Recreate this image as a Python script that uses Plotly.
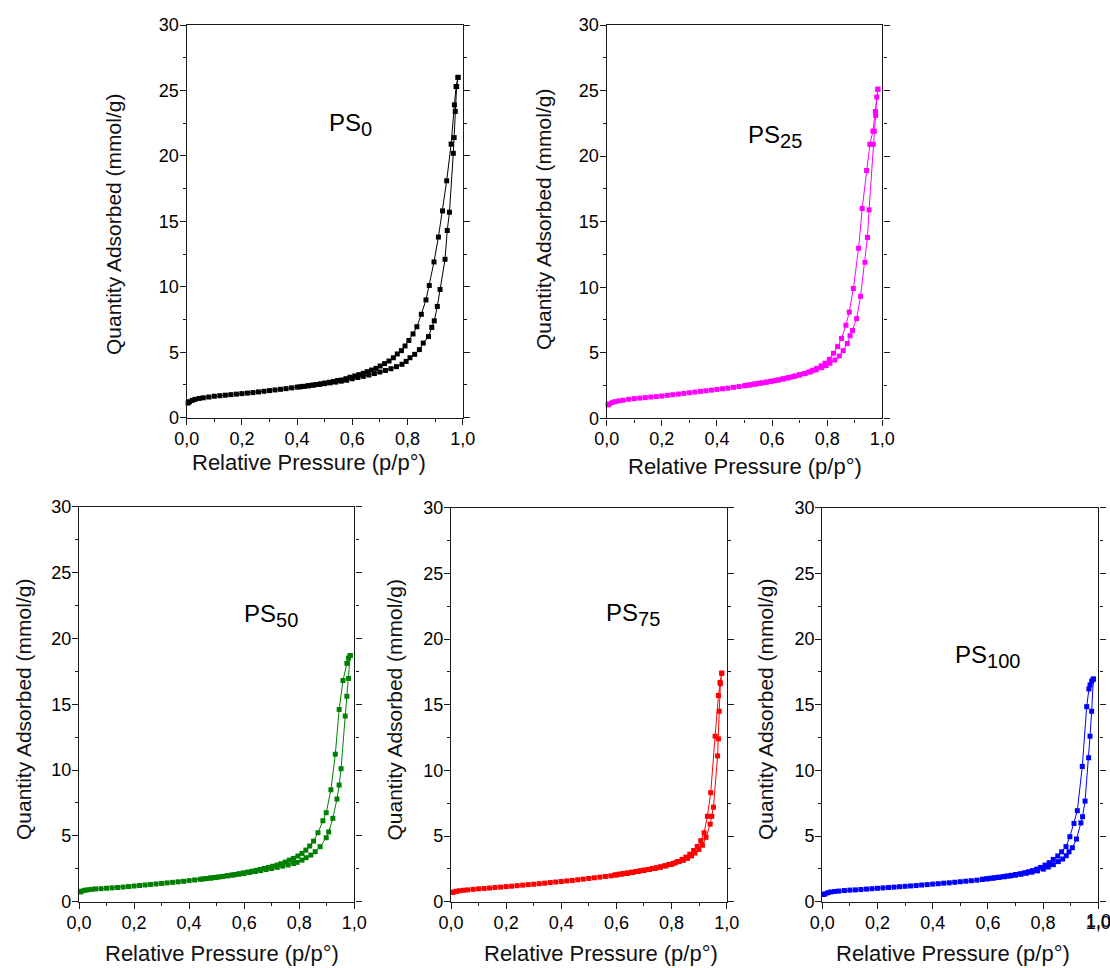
import plotly.graph_objects as go

# ---------------- data ----------------
# shared low-pressure grid of the adsorption branch
P_LOW = [0.005, 0.01, 0.02, 0.03, 0.045, 0.06, 0.08, 0.10, 0.12, 0.14, 0.16, 0.18, 0.20,
         0.22, 0.24, 0.26, 0.28, 0.30, 0.32, 0.34, 0.36, 0.38, 0.40, 0.42, 0.44, 0.46,
         0.48, 0.50, 0.52, 0.54, 0.56, 0.58, 0.60, 0.62, 0.64, 0.66, 0.68, 0.70, 0.72,
         0.74, 0.76, 0.78]

# PS0
PS0_ADS_LOW = [1.12, 1.22, 1.32, 1.40, 1.47, 1.52, 1.58, 1.64, 1.68, 1.72, 1.76, 1.80, 1.84,
               1.88, 1.92, 1.97, 2.02, 2.07, 2.12, 2.17, 2.22, 2.28, 2.34, 2.39, 2.44, 2.49,
               2.54, 2.60, 2.66, 2.72, 2.79, 2.86, 2.98, 3.07, 3.16, 3.26, 3.37, 3.49, 3.61,
               3.74, 3.90, 4.08]
PS0_ADS_P_HI = [0.795, 0.809, 0.826, 0.843, 0.857, 0.876, 0.888, 0.897, 0.908, 0.918, 0.936,
                0.944, 0.952, 0.966, 0.969, 0.973, 0.978, 0.983]
PS0_ADS_V_HI = [4.30, 4.58, 4.84, 5.20, 5.70, 6.20, 6.90, 7.40, 8.50, 9.80, 12.1,
                14.3, 15.7, 20.2, 21.4, 23.4, 25.3, 26.0]
PS0_DES_P = [0.983, 0.976, 0.970, 0.958, 0.942, 0.927, 0.912, 0.896, 0.879, 0.867, 0.850,
             0.834, 0.820, 0.805, 0.791, 0.778, 0.763, 0.749, 0.733, 0.717, 0.701, 0.686,
             0.670, 0.654, 0.640, 0.624, 0.609, 0.592, 0.577, 0.562, 0.547, 0.532, 0.517,
             0.500, 0.485, 0.470, 0.455, 0.440, 0.425, 0.410]
PS0_DES_V = [26.0, 25.3, 23.9, 20.9, 18.1, 15.8, 13.8, 11.9, 10.1, 9.0, 7.9,
             6.95, 6.4, 5.9, 5.48, 5.12, 4.87, 4.58, 4.33, 4.13, 3.95, 3.77,
             3.64, 3.52, 3.39, 3.29, 3.19, 3.09, 2.98, 2.88, 2.84, 2.77, 2.71,
             2.65, 2.59, 2.54, 2.49, 2.44, 2.39, 2.35]

# PS25
PS25_ADS_LOW = [1.02, 1.10, 1.20, 1.27, 1.33, 1.38, 1.45, 1.50, 1.54, 1.58, 1.62, 1.66, 1.70,
                1.75, 1.80, 1.85, 1.90, 1.95, 2.00, 2.05, 2.10, 2.15, 2.20, 2.25, 2.30, 2.36,
                2.42, 2.48, 2.54, 2.61, 2.68, 2.76, 2.84, 2.92, 3.01, 3.10, 3.20, 3.30, 3.42,
                3.55, 3.70, 3.86]
PS25_ADS_P_HI = [0.796, 0.810, 0.828, 0.844, 0.858, 0.873, 0.883, 0.892, 0.907, 0.921, 0.937,
                 0.946, 0.952, 0.967, 0.971, 0.976, 0.980, 0.984]
PS25_ADS_V_HI = [4.02, 4.20, 4.45, 4.75, 5.16, 5.70, 6.30, 6.70, 7.60, 9.30, 11.9,
                 13.8, 15.9, 20.9, 21.9, 23.1, 24.5, 25.1]
PS25_DES_P = [0.984, 0.975, 0.966, 0.955, 0.943, 0.927, 0.914, 0.895, 0.880, 0.868, 0.852,
              0.838, 0.823, 0.808, 0.792, 0.778, 0.762, 0.747, 0.732, 0.716, 0.700, 0.685,
              0.670, 0.655, 0.640, 0.625, 0.610, 0.595, 0.580, 0.565, 0.550, 0.535, 0.520,
              0.505]
PS25_DES_V = [25.1, 23.4, 21.9, 20.9, 18.9, 16.0, 12.97, 9.9, 8.1, 7.1, 6.1,
              5.47, 4.96, 4.50, 4.20, 4.00, 3.81, 3.66, 3.52, 3.40, 3.32, 3.23,
              3.15, 3.07, 3.00, 2.93, 2.87, 2.81, 2.76, 2.71, 2.66, 2.61, 2.56,
              2.51]

# PS50
PS50_ADS_LOW = [0.74, 0.80, 0.86, 0.90, 0.94, 0.97, 0.99, 1.02, 1.05, 1.08, 1.11, 1.15, 1.19,
                1.23, 1.27, 1.31, 1.35, 1.39, 1.43, 1.47, 1.51, 1.55, 1.60, 1.65, 1.70, 1.75,
                1.80, 1.85, 1.91, 1.97, 2.03, 2.09, 2.15, 2.22, 2.29, 2.36, 2.44, 2.52, 2.61,
                2.70, 2.79, 2.90]
PS50_ADS_P_HI = [0.792, 0.810, 0.825, 0.842, 0.858, 0.876, 0.898, 0.907, 0.922, 0.937, 0.945,
                 0.952, 0.967, 0.973, 0.979, 0.985]
PS50_ADS_V_HI = [2.99, 3.16, 3.34, 3.54, 3.80, 4.18, 4.86, 5.30, 6.33, 7.80, 8.86,
                 10.1, 14.1, 15.6, 16.96, 18.7]
PS50_DES_P = [0.985, 0.979, 0.973, 0.959, 0.945, 0.931, 0.915, 0.898, 0.886, 0.868, 0.852,
              0.838, 0.824, 0.810, 0.795, 0.779, 0.764, 0.749, 0.733, 0.719, 0.703, 0.688,
              0.673, 0.658, 0.643, 0.628, 0.613, 0.598, 0.583, 0.568, 0.553, 0.538, 0.523,
              0.508, 0.493, 0.478, 0.463, 0.448]
PS50_DES_V = [18.7, 18.5, 18.1, 16.8, 14.6, 11.2, 8.5, 6.76, 6.15, 5.24, 4.60,
              4.23, 3.92, 3.67, 3.47, 3.29, 3.16, 3.01, 2.88, 2.78, 2.69, 2.60,
              2.52, 2.45, 2.38, 2.31, 2.25, 2.19, 2.13, 2.07, 2.02, 1.97, 1.92,
              1.88, 1.84, 1.80, 1.76, 1.72]

# PS75
PS75_ADS_LOW = [0.70, 0.74, 0.79, 0.83, 0.87, 0.90, 0.94, 0.98, 1.01, 1.04, 1.08, 1.11, 1.15,
                1.18, 1.22, 1.26, 1.30, 1.33, 1.37, 1.41, 1.46, 1.50, 1.54, 1.58, 1.62, 1.67,
                1.72, 1.77, 1.82, 1.87, 1.92, 1.97, 2.03, 2.09, 2.15, 2.22, 2.30, 2.38, 2.45,
                2.53, 2.62, 2.72]
PS75_ADS_P_HI = [0.800, 0.814, 0.828, 0.843, 0.858, 0.872, 0.885, 0.899, 0.912, 0.925, 0.940,
                 0.946, 0.952, 0.967, 0.970, 0.973, 0.977, 0.982]
PS75_ADS_V_HI = [2.84, 2.96, 3.05, 3.15, 3.30, 3.48, 3.70, 3.98, 4.30, 4.90, 5.90,
                 6.50, 7.20, 11.1, 12.4, 14.5, 16.6, 17.4]
PS75_DES_P = [0.982, 0.976, 0.970, 0.958, 0.942, 0.930, 0.918, 0.906, 0.893, 0.880, 0.866,
              0.852, 0.838, 0.822, 0.806, 0.790, 0.775, 0.760, 0.745, 0.730, 0.715, 0.700,
              0.685, 0.670, 0.655, 0.640, 0.625, 0.610, 0.595]
PS75_DES_V = [17.4, 16.7, 15.7, 12.6, 8.3, 6.5, 5.25, 4.65, 4.20, 3.90, 3.62,
              3.40, 3.22, 3.06, 2.92, 2.83, 2.74, 2.66, 2.59, 2.52, 2.46, 2.41,
              2.36, 2.30, 2.25, 2.20, 2.15, 2.10, 2.05]

# PS100
PS100_ADS_LOW = [0.55, 0.60, 0.68, 0.74, 0.78, 0.81, 0.85, 0.88, 0.90, 0.93, 0.96, 0.99, 1.02,
                 1.05, 1.08, 1.11, 1.14, 1.17, 1.20, 1.23, 1.27, 1.30, 1.34, 1.37, 1.41, 1.44,
                 1.48, 1.52, 1.56, 1.60, 1.64, 1.69, 1.74, 1.79, 1.84, 1.90, 1.96, 2.02, 2.09,
                 2.17, 2.25, 2.35]
PS100_ADS_P_HI = [0.801, 0.819, 0.837, 0.855, 0.871, 0.884, 0.894, 0.906, 0.921, 0.937, 0.943,
                  0.952, 0.965, 0.970, 0.976, 0.982]
PS100_ADS_V_HI = [2.48, 2.64, 2.82, 3.05, 3.25, 3.50, 3.80, 4.11, 4.77, 6.00, 6.47,
                  7.66, 10.96, 12.6, 14.5, 16.95]
PS100_DES_P = [0.982, 0.976, 0.970, 0.966, 0.958, 0.942, 0.924, 0.912, 0.897, 0.883, 0.867,
               0.853, 0.837, 0.822, 0.807, 0.791, 0.777, 0.762, 0.747, 0.732, 0.717, 0.700,
               0.685, 0.670, 0.655, 0.640, 0.625, 0.610, 0.595, 0.580]
PS100_DES_V = [16.95, 16.8, 16.5, 16.2, 14.85, 10.3, 6.93, 5.96, 4.95, 4.19, 3.80,
               3.48, 3.22, 2.97, 2.79, 2.61, 2.48, 2.37, 2.28, 2.20, 2.13, 2.07,
               2.01, 1.96, 1.91, 1.87, 1.83, 1.79, 1.75, 1.71]

SAMPLE_LABELS = ["0", "25", "50", "75", "100"]
X_TICKS = [0.0, 0.2, 0.4, 0.6, 0.8, 1.0]
Y_TICKS = [0, 5, 10, 15, 20, 25, 30]
X_TITLE = "Relative Pressure (p/p°)"
Y_TITLE = "Quantity Adsorbed (mmol/g)"

# ---------------- layout / style ----------------
W, H = 1110, 968
FONT = "Liberation Sans, Arial, sans-serif"
COLORS = ["#000000", "#FF00FF", "#008000", "#FF0000", "#0000FF"]


def fx(px):
    return px / W


def fy(py):
    return 1 - py / H


# plot-area boxes in window pixels: (left, right, top, bottom)
BOXES = [(186.7, 462.7, 25.0, 417.7),
         (606.7, 882.3, 25.0, 418.3),
         (79.0, 354.3, 506.7, 901.7),
         (451.0, 726.7, 507.7, 901.7),
         (822.3, 1098.3, 507.7, 901.7)]
# label positions (data coords) and axis-title pixel centres
LABEL_POS = [(0.595, 22.4), (0.611, 21.5), (0.697, 21.7), (0.66, 21.9), (0.597, 18.66)]
XT_POS = [(309, 462), (745, 466), (221.5, 953), (601, 953), (952.5, 953)]
YT_POS = [(114, 225), (543, 220), (23, 710), (393.5, 710), (765, 710)]

series = [
    (PS0_ADS_LOW, PS0_ADS_P_HI, PS0_ADS_V_HI, PS0_DES_P, PS0_DES_V),
    (PS25_ADS_LOW, PS25_ADS_P_HI, PS25_ADS_V_HI, PS25_DES_P, PS25_DES_V),
    (PS50_ADS_LOW, PS50_ADS_P_HI, PS50_ADS_V_HI, PS50_DES_P, PS50_DES_V),
    (PS75_ADS_LOW, PS75_ADS_P_HI, PS75_ADS_V_HI, PS75_DES_P, PS75_DES_V),
    (PS100_ADS_LOW, PS100_ADS_P_HI, PS100_ADS_V_HI, PS100_DES_P, PS100_DES_V),
]

fig = go.Figure()
annotations = []
TICK_FONT = dict(family=FONT, size=18, color="#000000")

for i, (ads_low, ads_p_hi, ads_v_hi, des_p, des_v) in enumerate(series):
    n = "" if i == 0 else str(i + 1)
    xa, ya = "x" + n, "y" + n
    col = COLORS[i]
    style = dict(mode="lines+markers",
                 line=dict(color=col, width=1),
                 marker=dict(symbol="square", size=5, color=col, line=dict(width=0)),
                 xaxis=xa, yaxis=ya, showlegend=False, cliponaxis=False)
    fig.add_trace(go.Scatter(x=P_LOW + ads_p_hi, y=ads_low + ads_v_hi, **style))
    fig.add_trace(go.Scatter(x=des_p, y=des_v, **style))

    l, r, t, b = BOXES[i]
    common = dict(showline=True, linecolor="#1a1a1a", linewidth=1.4, showgrid=False,
                  zeroline=False, ticks="outside", ticklen=6, tickwidth=1.2,
                  tickcolor="#1a1a1a", automargin=False, ticklabeloverflow="allow",
                  tickfont=TICK_FONT)
    fig.layout["xaxis" + n] = dict(
        domain=[fx(l), fx(r)], anchor=ya, range=[0, 1],
        tickmode="array", tickvals=X_TICKS, tickformat=".1f", mirror=True,
        ticklabelstandoff=-2,
        minor=dict(dtick=0.1, ticklen=3, tickcolor="#1a1a1a", ticks="outside"),
        **common)
    fig.layout["yaxis" + n] = dict(
        domain=[fy(b), fy(t)], anchor=xa, range=[0, 30],
        tickmode="array", tickvals=Y_TICKS, mirror="allticks",
        ticklabelstandoff=-3,
        minor=dict(dtick=2.5, ticklen=3, tickcolor="#1a1a1a", ticks="outside"),
        **common)

    lx, ly = LABEL_POS[i]
    annotations.append(dict(
        x=lx, y=ly, xref=xa, yref=ya, showarrow=False, xanchor="center", yanchor="middle",
        text='PS<sub><span style="font-size:20px">' + SAMPLE_LABELS[i] + "</span></sub>",
        font=dict(family=FONT, size=24, color="#000000")))
    tx, ty = XT_POS[i]
    annotations.append(dict(
        x=fx(tx), y=fy(ty), xref="paper", yref="paper", showarrow=False,
        xanchor="center", yanchor="middle", text=X_TITLE,
        font=dict(family=FONT, size=22, color="#111111")))
    yx, yy = YT_POS[i]
    annotations.append(dict(
        x=fx(yx), y=fy(yy), xref="paper", yref="paper", showarrow=False,
        xanchor="center", yanchor="middle", text=Y_TITLE, textangle=-90,
        font=dict(family=FONT, size=21, color="#111111")))

# Plotly drops the last x tick label of the right-most panel at the window edge;
# draw that label ("1,0") explicitly so it shows as in the reference.
annotations.append(dict(
    x=X_TICKS[-1], y=0, xref="x5", yref="y5", showarrow=False,
    xanchor="center", yanchor="middle", yshift=-19.5,
    text=f"{X_TICKS[-1]:.1f}".replace(".", ","), font=TICK_FONT))

fig.update_layout(width=W, height=H, autosize=False,
                  margin=dict(l=0, r=0, t=0, b=0),
                  paper_bgcolor="white", plot_bgcolor="white",
                  separators=",.", showlegend=False,
                  annotations=annotations)

# remove the default 8px page margin so the figure fills the window exactly
fig.write_html("out.html",
               config={"displayModeBar": False},
               post_script="document.body.style.margin='0';"
                           "document.body.style.overflow='hidden';")
